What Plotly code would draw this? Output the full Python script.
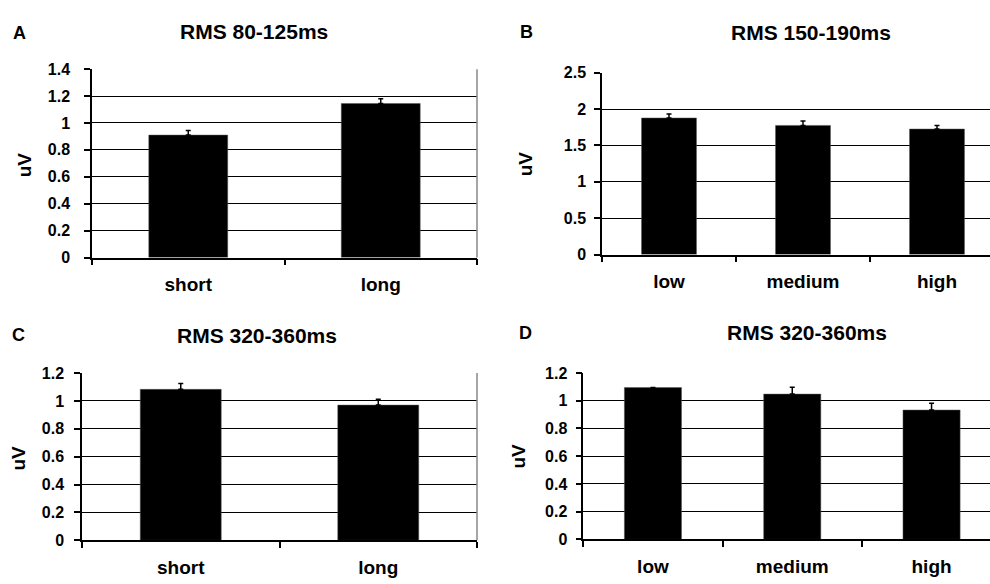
import plotly.graph_objects as go

# ---- data ----
cats_len = ["short", "long"]
cats_lvl = ["low", "medium", "high"]

a_vals = [0.91, 1.145]
a_err = [0.035, 0.035]
b_vals = [1.878, 1.776, 1.726]
b_err = [0.055, 0.06, 0.05]
c_vals = [1.083, 0.970]
c_err = [0.042, 0.042]
d_vals = [1.095, 1.048, 0.933]
d_err = [None, 0.05, 0.05]

titles = ["RMS 80-125ms", "RMS 150-190ms", "RMS 320-360ms", "RMS 320-360ms"]
letters = ["A", "B", "C", "D"]

a_ticks = [0, 0.2, 0.4, 0.6, 0.8, 1.0, 1.2, 1.4]
b_ticks = [0, 0.5, 1.0, 1.5, 2.0, 2.5]
cd_ticks = [0, 0.2, 0.4, 0.6, 0.8, 1.0, 1.2]

W, H = 990, 584
FONT = "Liberation Sans, Arial, sans-serif"


def px_x(p):
    return p / W


def px_y(p):
    return 1 - p / H


panels = [
    dict(cats=cats_len, vals=a_vals, err=a_err, ticks=a_ticks, yr=[0, 1.4],
         xd=[px_x(92), px_x(477)], yd=[px_y(257), px_y(63)], xr=[-0.5, 1.5], standoff=11),
    dict(cats=cats_lvl, vals=b_vals, err=b_err, ticks=b_ticks, yr=[0, 2.5],
         xd=[px_x(602), 1.0], yd=[px_y(254), px_y(66.7)], xr=[-0.5, -0.5 + (990 - 602) / 134.0], standoff=5),
    dict(cats=cats_len, vals=c_vals, err=c_err, ticks=cd_ticks, yr=[0, 1.2],
         xd=[px_x(82), px_x(477)], yd=[px_y(548.3), px_y(376)], xr=[-0.5, 1.5], standoff=7),
    dict(cats=cats_lvl, vals=d_vals, err=d_err, ticks=cd_ticks, yr=[0, 1.2],
         xd=[px_x(583.3), 1.0], yd=[px_y(547.3), px_y(376)], xr=[-0.5, -0.5 + (990 - 583.3) / 139.3], standoff=5),
]

title_pos = [(254, 24), (811, 25), (257, 337), (807, 334)]
letter_pos = [(19, 26), (526, 25), (18, 337), (525, 335)]
uv_pos = [(24, 162), (525, 161), (18, 464), (519, 462)]

fig = go.Figure()
annotations = []
shapes = []

for i, p in enumerate(panels):
    n = "" if i == 0 else str(i + 1)
    xa, ya = "x" + n, "y" + n
    fig.add_trace(go.Bar(
        x=p["cats"], y=p["vals"], xaxis=xa, yaxis=ya,
        marker=dict(color="black", line=dict(color="#555", width=0.5)),
        error_y=dict(type="data", symmetric=False, array=p["err"],
                     arrayminus=[0] * len(p["err"]), color="black",
                     thickness=1.5, width=2.5, visible=True),
        showlegend=False,
    ))
    fig.update_layout(**{
        "xaxis" + n: dict(domain=p["xd"], anchor=ya, range=p["xr"], type="category",
                          showline=True, linecolor="black", linewidth=1.5,
                          ticks="outside", ticklen=6, tickwidth=1.5, tickcolor="black",
                          tickson="boundaries", showgrid=False, fixedrange=True,
                          ticklabelstandoff=9,
                          tickfont=dict(family=FONT, size=19, color="black", weight="bold")),
        "yaxis" + n: dict(domain=p["yd"], anchor=xa, range=p["yr"], tickvals=p["ticks"],
                          showline=True, linecolor="black", linewidth=1.5,
                          ticks="outside", ticklen=6, tickwidth=1.5, tickcolor="black",
                          showgrid=True, gridcolor="black", gridwidth=1.3,
                          zeroline=False, fixedrange=True,
                          ticklabelstandoff=p["standoff"],
                          tickfont=dict(family=FONT, size=16, color="black", weight="bold")),
    })
    tx, ty = title_pos[i]
    annotations.append(dict(text="<b>" + titles[i] + "</b>", x=px_x(tx), y=px_y(ty),
                            xref="paper", yref="paper", showarrow=False,
                            xanchor="center", yanchor="middle",
                            font=dict(family=FONT, size=21, color="black")))
    lx, ly = letter_pos[i]
    annotations.append(dict(text="<b>" + letters[i] + "</b>", x=px_x(lx), y=px_y(ly),
                            xref="paper", yref="paper", showarrow=False,
                            xanchor="center", yanchor="middle",
                            font=dict(family=FONT, size=18, color="black")))
    ux, uy = uv_pos[i]
    annotations.append(dict(text="<b>uV</b>", x=px_x(ux), y=px_y(uy),
                            xref="paper", yref="paper", showarrow=False, textangle=-90,
                            xanchor="center", yanchor="middle",
                            font=dict(family=FONT, size=19, color="black")))
    if i in (0, 2):
        shapes.append(dict(type="line", xref=xa + " domain", yref=ya + " domain",
                           x0=1, x1=1, y0=0, y1=1, line=dict(color="#888", width=1.5)))

fig.update_layout(
    width=W, height=H, margin=dict(l=0, r=0, t=0, b=0),
    paper_bgcolor="white", plot_bgcolor="white",
    bargap=0.59, annotations=annotations, shapes=shapes,
)

fig.write_html("out.html")
